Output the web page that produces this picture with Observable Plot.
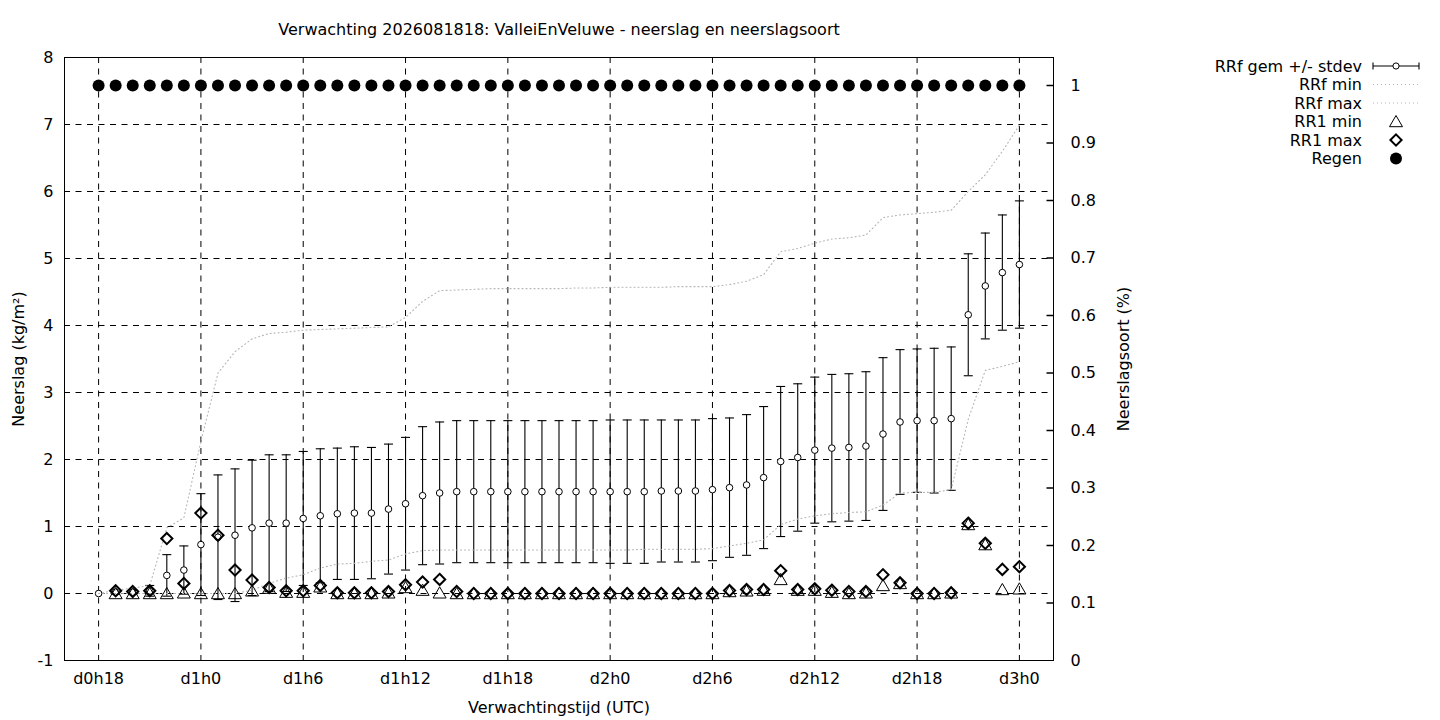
<!DOCTYPE html>
<html><head><meta charset="utf-8">
<script src="https://cdn.jsdelivr.net/npm/d3@7"></script>
<script src="https://cdn.jsdelivr.net/npm/@observablehq/plot@0.6"></script>
<style>
html,body{margin:0;padding:0;background:#fff;}
#wrap{position:relative;width:1440px;height:720px;font-family:"DejaVu Sans",sans-serif;background:#fff;}
#legend{position:absolute;left:1180px;top:50px;}
</style></head><body>
<div id="wrap"></div>
<script>
const titleText = "Verwachting 2026081818: ValleiEnVeluwe - neerslag en neerslagsoort";
const xLabel = "Verwachtingstijd (UTC)";
const yLabel = "Neerslag (kg/m²)";
const y2Label = "Neerslagsoort (%)";

const hours = [18,19,20,21,22,23,24,25,26,27,28,29,30,31,32,33,34,35,36,37,38,39,40,41,42,43,44,45,
  46,47,48,49,50,51,52,53,54,55,56,57,58,59,60,61,62,63,64,65,66,67,68,69,70,71,72];
const rr1Hours = hours.slice(1);

const gemMean = [0,0.02,0.02,0.04,0.27,0.35,0.73,0.84,0.87,0.98,1.05,1.05,1.12,1.16,1.19,1.20,1.20,1.26,1.34,1.46,1.50,
  1.52,1.52,1.52,1.52,1.52,1.52,1.52,1.52,1.52,1.52,1.52,1.52,
  1.53,1.53,1.53,1.55,1.58,1.62,1.73,1.97,2.03,2.14,2.17,2.18,2.20,2.38,2.56,2.58,2.58,2.61,4.16,4.59,4.79,4.91];
const gemStdev = [0,0.03,0.03,0.08,0.31,0.36,0.76,0.93,0.99,1.01,1.02,1.02,1.00,1.00,0.98,0.99,0.98,0.97,0.99,1.03,1.06,
  1.06,1.06,1.06,1.06,1.06,1.06,1.06,1.06,1.06,1.07,1.07,1.07,
  1.06,1.06,1.06,1.06,1.04,1.05,1.06,1.12,1.10,1.09,1.10,1.10,1.11,1.14,1.08,1.07,1.08,1.07,0.91,0.79,0.86,0.95];
const rrfMin = [0,0,0,0,0,0,0,0,0,
  0.05,0.15,0.23,0.28,0.38,0.44,0.45,0.48,0.50,0.59,0.64,0.65,
  0.65,0.65,0.65,0.65,0.65,0.65,0.65,0.65,0.65,0.65,0.65,0.66,0.66,0.66,0.66,0.67,
  0.71,0.75,0.80,1.03,1.11,1.16,1.19,1.21,1.22,1.32,1.50,1.51,1.51,1.55,2.60,3.33,3.39,3.46];
const rrfMax = [0,0.05,0.08,0.12,0.98,1.13,2.27,3.29,3.61,3.80,3.88,3.90,3.93,3.94,3.95,3.96,3.97,3.98,4.12,4.36,4.52,
  4.53,4.54,4.55,4.55,4.55,4.55,4.55,4.56,4.56,4.57,4.57,4.57,4.57,4.58,4.58,4.58,
  4.61,4.66,4.76,5.10,5.15,5.23,5.29,5.31,5.35,5.61,5.65,5.67,5.69,5.72,6.00,6.25,6.60,6.99];
const rr1Min = [0,0,0,0,0.01,0,0,0,0.04,0.08,0.02,0.02,0.10,0,0,0,0.01,0.09,0.05,0.01,0,
  0,0,0,0,0,0,0,0,0,0,0,0,0,0,0,
  0.03,0.04,0.05,0.21,0.05,0.05,0.02,0,0.01,0.12,0.15,0,0,0.01,1.03,0.73,0.06,0.07];
const rr1Max = [0.04,0.03,0.04,0.82,0.15,1.20,0.87,0.35,0.20,0.09,0.04,0.04,0.12,0.01,0.01,0.01,0.03,0.13,0.17,0.21,0.03,
  0,0,0,0,0,0,0,0,0,0,0,0,0,0,0,
  0.045,0.06,0.06,0.34,0.06,0.07,0.05,0.03,0.03,0.28,0.16,0,0,0.01,1.05,0.75,0.36,0.40];
const regen = [1,1,1,1,1,1,1,1,1,1,1,1,1,1,1,1,1,1,1,1,1,1,1,1,1,1,1,1,
  1,1,1,1,1,1,1,1,1,1,1,1,1,1,1,1,1,1,1,1,1,1,1,1,1,1,1];

const xTickHours = [18,24,30,36,42,48,54,60,66,72];
const xTickLabels = ["d0h18","d1h0","d1h6","d1h12","d1h18","d2h0","d2h6","d2h12","d2h18","d3h0"];
const yTicks = [-1,0,1,2,3,4,5,6,7,8];
const yTickLabels = ["-1","0","1","2","3","4","5","6","7","8"];
const y2Ticks = [0,0.1,0.2,0.3,0.4,0.5,0.6,0.7,0.8,0.9,1];
const y2TickLabels = ["0","0.1","0.2","0.3","0.4","0.5","0.6","0.7","0.8","0.9","1"];

const xDomain = [16, 74];
const yDomain = [-1, 8];
const y2Top = 1.0487;
const toLeft = v => yDomain[0] + v * (yDomain[1] - yDomain[0]) / y2Top;

const gem = hours.map((h, i) => ({h, mean: gemMean[i], lo: gemMean[i] - gemStdev[i], hi: gemMean[i] + gemStdev[i], sd: gemStdev[i]}));
const bars = gem.filter(d => d.sd > 0);
const rrf = hours.map((h, i) => ({h, min: rrfMin[i], max: rrfMax[i]}));
const rr1 = rr1Hours.map((h, i) => ({h, min: rr1Min[i], max: rr1Max[i]}));
const soort = hours.map((h, i) => ({h, v: toLeft(regen[i])}));

const xLab = new Map(xTickHours.map((h, i) => [h, xTickLabels[i]]));
const yLab = new Map(yTicks.map((v, i) => [v, yTickLabels[i]]));
const y2Pos = y2Ticks.map(toLeft);
const y2Lab = new Map(y2Pos.map((p, i) => [p, y2TickLabels[i]]));

const capSym = {draw(ctx){ctx.moveTo(-4.5,0);ctx.lineTo(4.5,0);}};
const triSym = {draw(ctx){ctx.moveTo(0,-6);ctx.lineTo(6.5,5.2);ctx.lineTo(-6.5,5.2);ctx.closePath();}};
const diaSym = {draw(ctx){ctx.moveTo(0,-5.6);ctx.lineTo(5.6,0);ctx.lineTo(0,5.6);ctx.lineTo(-5.6,0);ctx.closePath();}};
const rtickSym = {draw(ctx){ctx.moveTo(-7,0);ctx.lineTo(0,0);}};

const FS = 16;
const dotted = {stroke: "#b4b4b4", strokeWidth: 1.1, strokeDasharray: "1,3"};
const dash = {stroke: "black", strokeOpacity: 1, strokeWidth: 1, strokeDasharray: "6,5.5"};

const chart = Plot.plot({
  width: 1440, height: 720,
  marginLeft: 64, marginRight: 387, marginTop: 57, marginBottom: 60,
  x: {domain: xDomain},
  y: {domain: yDomain},
  style: {fontFamily: "DejaVu Sans, sans-serif", fontSize: FS + "px", color: "black", background: "white", overflow: "visible"},
  marks: [
    Plot.gridX(xTickHours, dash),
    Plot.gridY(yTicks.filter(v => v > yDomain[0] && v < yDomain[1]), dash),
    Plot.axisX(xTickHours, {anchor: "bottom", tickSize: 0, tickPadding: 12, tickFormat: d => xLab.get(d), label: null, fontSize: FS}),
    Plot.axisY(yTicks, {anchor: "left", tickSize: 0, tickPadding: 11, tickFormat: d => yLab.get(d), label: null, fontSize: FS}),
    Plot.axisY(y2Pos, {anchor: "right", tickSize: 0, tickPadding: 17, tickFormat: d => y2Lab.get(d), label: null, fontSize: FS}),
    Plot.dot(y2Pos.slice(1), {y: d => d, frameAnchor: "right", symbol: rtickSym, stroke: "black", fill: "none", r: 4}),
    Plot.frame({stroke: "black", strokeWidth: 1}),
    // RRf gem +/- stdev
    Plot.ruleX(bars, {x: "h", y1: "lo", y2: "hi", stroke: "black", strokeWidth: 1.1}),
    Plot.dot(bars, {x: "h", y: "lo", symbol: capSym, stroke: "black", strokeWidth: 1.1, r: 4}),
    Plot.dot(bars, {x: "h", y: "hi", symbol: capSym, stroke: "black", strokeWidth: 1.1, r: 4}),
    Plot.dot(gem, {x: "h", y: "mean", r: 3.3, stroke: "black", fill: "white", strokeWidth: 1}),
    // RRf min / max
    Plot.line(rrf, {x: "h", y: "min", ...dotted}),
    Plot.line(rrf, {x: "h", y: "max", ...dotted}),
    // RR1 min / max
    Plot.dot(rr1, {x: "h", y: "min", symbol: triSym, stroke: "black", fill: "none", strokeWidth: 1, r: 4}),
    Plot.dot(rr1, {x: "h", y: "max", symbol: diaSym, stroke: "black", fill: "none", strokeWidth: 2, r: 4}),
    // Regen
    Plot.dot(soort, {x: "h", y: "v", r: 6, fill: "black", stroke: "none"}),
    // texts
    Plot.text([titleText], {text: d => d, frameAnchor: "top", dy: -28, lineAnchor: "middle", fontSize: FS}),
    Plot.text([xLabel], {text: d => d, frameAnchor: "bottom", dy: 47, lineAnchor: "middle", fontSize: FS}),
    Plot.text([yLabel], {text: d => d, frameAnchor: "left", dx: -46, rotate: -90, textAnchor: "middle", lineAnchor: "middle", fontSize: FS}),
    Plot.text([y2Label], {text: d => d, frameAnchor: "right", dx: 70, rotate: -90, textAnchor: "middle", lineAnchor: "middle", fontSize: FS})
  ]
});
document.getElementById("wrap").appendChild(chart);

// legend
const legendItems = ["RRf gem +/- stdev", "RRf min", "RRf max", "RR1 min", "RR1 max", "Regen"];
const ns = "http://www.w3.org/2000/svg";
const lg = document.createElementNS(ns, "svg");
lg.setAttribute("id", "legend");
lg.setAttribute("width", 260);
lg.setAttribute("height", 130);
const rowY = i => 16 + i * 18.5;
const x0 = 193, x1 = 239, xc = 216;
let html = "";
legendItems.forEach((t, i) => {
  html += `<text x="182" y="${rowY(i)}" text-anchor="end" dominant-baseline="central" font-family="DejaVu Sans, sans-serif" font-size="${FS}">${t}</text>`;
});
html += `<g stroke="black" stroke-width="1.1" fill="none">
  <line x1="${x0}" y1="${rowY(0)}" x2="${x1}" y2="${rowY(0)}"/>
  <line x1="${x0}" y1="${rowY(0)-3.5}" x2="${x0}" y2="${rowY(0)+3.5}"/>
  <line x1="${x1}" y1="${rowY(0)-3.5}" x2="${x1}" y2="${rowY(0)+3.5}"/>
</g>
<circle cx="${xc}" cy="${rowY(0)}" r="3.1" fill="white" stroke="black"/>
<line x1="${x0}" y1="${rowY(1)}" x2="${x1}" y2="${rowY(1)}" stroke="#b4b4b4" stroke-width="1.1" stroke-dasharray="1,3"/>
<line x1="${x0}" y1="${rowY(2)}" x2="${x1}" y2="${rowY(2)}" stroke="#b4b4b4" stroke-width="1.1" stroke-dasharray="1,3"/>
<path transform="translate(${xc},${rowY(3)})" d="M0,-6L6.5,5.2L-6.5,5.2Z" fill="none" stroke="black"/>
<path transform="translate(${xc},${rowY(4)})" d="M0,-5.6L5.6,0L0,5.6L-5.6,0Z" fill="none" stroke="black" stroke-width="2"/>
<circle cx="${xc}" cy="${rowY(5)}" r="6" fill="black"/>`;
lg.innerHTML = html;
document.getElementById("wrap").appendChild(lg);
</script>
</body></html>
